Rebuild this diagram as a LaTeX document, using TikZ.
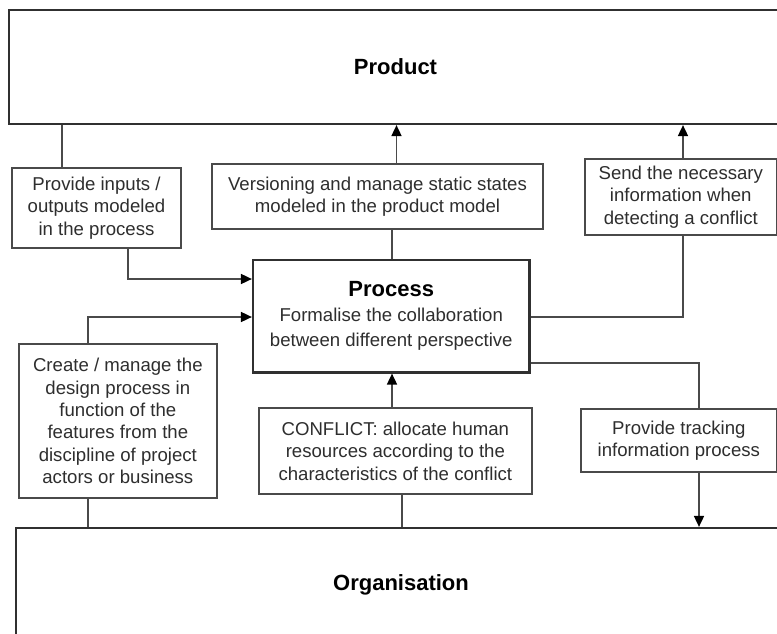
\documentclass[tikz,border=0pt]{standalone}
\usepackage{fontspec}
\setmainfont{Liberation Sans}
\usetikzlibrary{arrows.meta}
\definecolor{boxline}{HTML}{4A4A4A}
\definecolor{bigline}{HTML}{303030}
\definecolor{txt}{HTML}{2E2E2E}
\begin{document}
\begin{tikzpicture}[x=1pt,y=-1pt,
  bigbox/.style={draw=bigline, line width=2.2pt, fill=white, inner sep=0pt,
    font=\bfseries\fontsize{22}{26}\selectfont, text=black},
  smallbox/.style={draw=boxline, line width=1.7pt, fill=white, inner sep=0pt,
    align=center, font=\fontsize{18.6}{22.3}\selectfont, text=txt},
  procbox/.style={draw=bigline, line width=2.2pt, fill=white, inner sep=0pt,
    align=center, font=\fontsize{18.6}{25}\selectfont, text=txt},
  conn/.style={draw=boxline, line width=1.7pt},
  arr/.style={conn, -{Triangle[length=11pt,width=10pt,color=black]}}]
\useasboundingbox (0,0) rectangle (777,634);
\clip (0,0) rectangle (777,634);
\fill[white] (0,0) rectangle (777,634);

\node[bigbox, minimum width=773, minimum height=114] (product) at (395.5,67) {Product};
\node[bigbox, minimum width=770, minimum height=114] (org) at (401,585) {Organisation};

\node[smallbox, minimum width=168.4, minimum height=80.6] (inputs) at (96.5,208)
  {Provide inputs /\\outputs modeled\\in the process};
\node[smallbox, minimum width=331, minimum height=65] (version) at (377.5,196.5)
  {Versioning and manage static states\\modeled in the product model};
\node[smallbox, minimum width=191.7, minimum height=76] (send) at (680.8,197)
  {Send the necessary\\information when\\detecting a conflict};
\node[procbox, minimum width=276.5, minimum height=112.5] (process) at (391.25,316.25)
  {{\bfseries\color{black}\fontsize{22}{25}\selectfont Process}\\Formalise the collaboration\\between different perspective};
\node[smallbox, minimum width=197.7, minimum height=154] (create) at (117.85,421)
  {Create / manage the\\design process in\\function of the\\features from the\\discipline of project\\actors or business};
\node[smallbox, minimum width=272.7, minimum height=86.3] (conflict) at (395.35,451.15)
  {CONFLICT: allocate human\\resources according to the\\characteristics of the conflict};
\node[smallbox, minimum width=195.7, minimum height=63.3] (tracking) at (678.85,440.65)
  {Provide tracking\\information process};

\draw[conn] (61.7,0 |- product.south) -- (61.7,0 |- inputs.north);
\draw[arr] (128,0 |- inputs.south) |- (0,279 -| process.west);
\draw[arr] (396.5,0 |- version.north) -- (396.5,0 |- product.south);
\draw[conn] (392,0 |- process.north) -- (392,0 |- version.south);
\draw[arr] (683,0 |- send.north) -- (683,0 |- product.south);
\draw[conn] (0,317 -| process.east) -| (683,0 |- send.south);
\draw[arr] (88,0 |- create.north) |- (0,317 -| process.west);
\draw[conn] (88,0 |- create.south) -- (88,0 |- org.north);
\draw[arr] (392,0 |- conflict.north) -- (392,0 |- process.south);
\draw[conn] (402,0 |- conflict.south) -- (402,0 |- org.north);
\draw[conn] (0,363 -| process.east) -| (699,0 |- tracking.north);
\draw[arr] (699,0 |- tracking.south) -- (699,0 |- org.north);
\end{tikzpicture}
\end{document}
